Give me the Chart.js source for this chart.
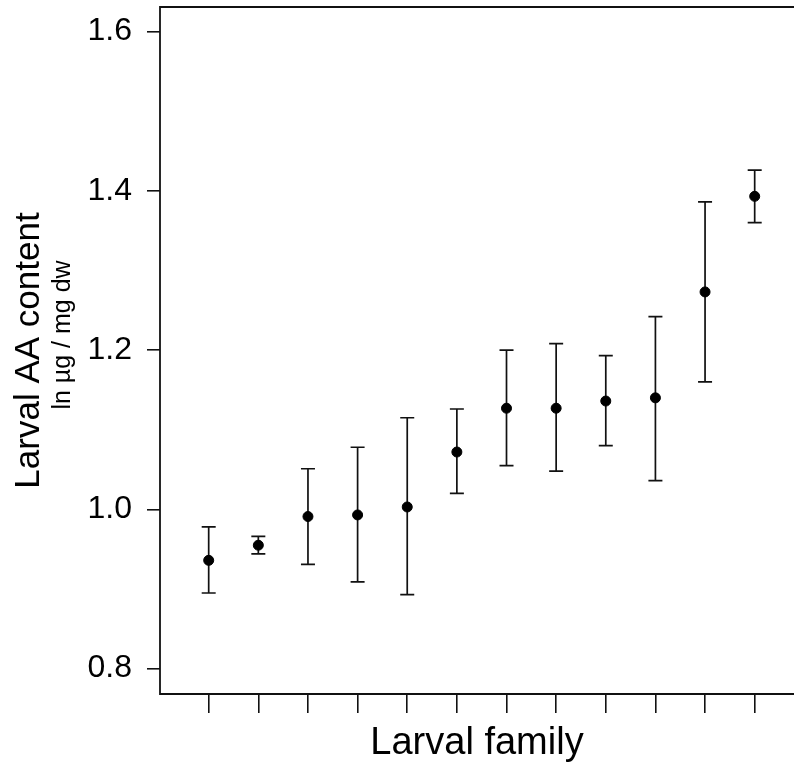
<!DOCTYPE html>
<html>
<head>
<meta charset="utf-8">
<script src="https://cdn.jsdelivr.net/npm/chart.js@4"></script>
<style>
  html, body { margin: 0; padding: 0; background: #fff; }
  canvas { display: block; }
</style>
</head>
<body>
<canvas id="chart" width="794" height="769"></canvas>
<script>
// larval families, ordered by mean AA content
const families = [1, 2, 3, 4, 5, 6, 7, 8, 9, 10, 11, 12];
const means = [0.936, 0.955, 0.991, 0.993, 1.003, 1.072, 1.127, 1.127, 1.136, 1.140, 1.273, 1.393];
const upper = [0.978, 0.966, 1.051, 1.078, 1.115, 1.126, 1.200, 1.208, 1.193, 1.242, 1.386, 1.426];
const lower = [0.895, 0.944, 0.931, 0.909, 0.893, 1.020, 1.055, 1.048, 1.080, 1.036, 1.160, 1.360];
const yTicks = [0.8, 1.0, 1.2, 1.4, 1.6];

const FONT = "'Liberation Sans', Arial, sans-serif";

const noPad = s => { s.paddingTop = 0; s.paddingBottom = 0; s.paddingLeft = 0; s.paddingRight = 0; };

const errorBars = {
  id: 'errorBars',
  beforeDatasetsDraw(chart) {
    const {ctx, scales: {x, y}} = chart;
    ctx.save();
    ctx.strokeStyle = '#111';
    ctx.lineWidth = 1.7;
    families.forEach((f, i) => {
      const px = x.getPixelForValue(f);
      const yt = y.getPixelForValue(upper[i]);
      const yb = y.getPixelForValue(lower[i]);
      ctx.beginPath();
      ctx.moveTo(px, yt); ctx.lineTo(px, yb);
      ctx.moveTo(px - 7, yt); ctx.lineTo(px + 7, yt);
      ctx.moveTo(px - 7, yb); ctx.lineTo(px + 7, yb);
      ctx.stroke();
    });
    ctx.restore();
  }
};

// frame (left, top, bottom) + second line of y title
const frame = {
  id: 'frame',
  afterDraw(chart) {
    const {ctx, chartArea: a} = chart;
    ctx.save();
    ctx.strokeStyle = '#111';
    ctx.lineWidth = 1.8;
    ctx.beginPath();
    ctx.moveTo(a.right + 2, a.top);
    ctx.lineTo(a.left, a.top);
    ctx.lineTo(a.left, a.bottom);
    ctx.lineTo(a.right + 2, a.bottom);
    ctx.stroke();

    ctx.translate(70, 335);
    ctx.rotate(-Math.PI / 2);
    ctx.fillStyle = '#000';
    ctx.font = '25px ' + FONT;
    ctx.textAlign = 'center';
    ctx.textBaseline = 'alphabetic';
    ctx.fillText('ln \u00b5g / mg dw', 0, 0);
    ctx.restore();
  }
};

new Chart(document.getElementById('chart'), {
  type: 'scatter',
  data: {
    datasets: [{
      data: families.map((f, i) => ({x: f, y: means[i]})),
      backgroundColor: '#000',
      borderColor: '#000',
      pointRadius: 5,
      pointHoverRadius: 5
    }]
  },
  options: {
    responsive: false,
    animation: false,
    layout: { autoPadding: false, padding: { top: 7, right: 0, bottom: 0, left: 0 } },
    plugins: {
      legend: { display: false },
      tooltip: { enabled: false }
    },
    scales: {
      x: {
        type: 'linear',
        min: 0.019,
        max: 12.792,
        afterBuildTicks: s => { s.ticks = families.map(v => ({value: v})); },
        afterFit: s => { s.height = 75; noPad(s); },
        border: { display: false },
        grid: { drawOnChartArea: false, drawTicks: true, tickLength: 19, color: '#111', lineWidth: 1.6 },
        ticks: { display: false },
        title: {
          display: true,
          text: 'Larval family',
          color: '#000',
          font: { family: FONT, size: 38, lineHeight: 1.2 },
          padding: { top: 0, bottom: 3 }
        }
      },
      y: {
        min: 0.7682,
        max: 1.6307,
        afterBuildTicks: s => { s.ticks = yTicks.map(v => ({value: v})); },
        afterFit: s => { s.width = 160; noPad(s); },
        border: { display: false },
        grid: { drawOnChartArea: false, drawTicks: true, tickLength: 13, color: '#111', lineWidth: 1.6 },
        ticks: {
          color: '#000',
          padding: 15,
          font: { family: FONT, size: 32 },
          callback: v => v.toFixed(1)
        },
        title: {
          display: true,
          text: 'Larval AA content',
          color: '#000',
          font: { family: FONT, size: 35, lineHeight: 1.2 },
          padding: { top: 8, bottom: 0 }
        }
      }
    }
  },
  plugins: [errorBars, frame]
});
</script>
</body>
</html>
